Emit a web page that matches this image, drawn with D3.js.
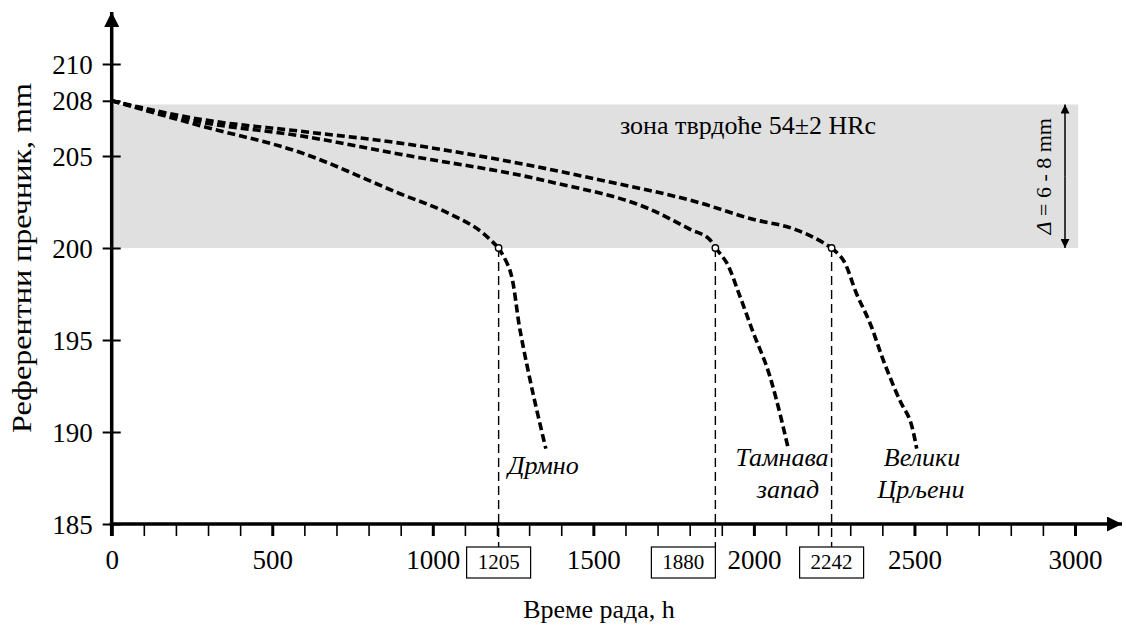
<!DOCTYPE html>
<html>
<head>
<meta charset="utf-8">
<script src="https://cdn.jsdelivr.net/npm/d3@7"></script>
<style>
  body { margin: 0; background: #fff; }
  svg { display: block; font-family: "Liberation Serif", "Times New Roman", serif; }
</style>
</head>
<body>
<svg id="chart" width="1126" height="625"></svg>
<script>
// Axis ticks
const xMajorTicks = [0, 500, 1000, 1500, 2000, 2500, 3000];
const xMinorStep = 100;
const yTicks = [185, 190, 195, 200, 205, 208, 210];

// Mines (curve labels)
const mines = ["Дрмно", "Тамнава запад", "Велики Црљени"];

// Wear curves: operating time (h) vs reference diameter (mm)
const drmnoHours = [0, 275, 586, 898, 1053, 1157, 1205];
const drmnoDiam  = [208, 206.65, 205.2, 202.95, 201.85, 200.8, 200];
const drmnoWearHours = [1205, 1240, 1272, 1312, 1352];
const drmnoWearDiam  = [200, 198.8, 195.5, 192.1, 189.1];

const tamnavaHours = [0, 275, 586, 898, 1365, 1677, 1803, 1863, 1880];
const tamnavaDiam  = [208, 206.85, 206.1, 205.1, 203.6, 202.1, 201.0, 200.45, 200];
const tamnavaWearHours = [1880, 1915, 1957, 1998, 2040, 2071, 2107];
const tamnavaWearDiam  = [200, 199.2, 197.35, 195.4, 193.55, 191.7, 189.1];

const velikiHours = [0, 275, 586, 898, 1209, 1521, 1832, 1988, 2130, 2215, 2242];
const velikiDiam  = [208, 207.0, 206.35, 205.7, 204.8, 203.7, 202.45, 201.6, 201.0, 200.3, 200];
const velikiWearHours = [2242, 2278, 2320, 2362, 2403, 2455, 2486, 2507];
const velikiWearDiam  = [200, 199.35, 197.5, 195.9, 193.9, 191.7, 190.65, 189.1];

// Hours at which each roller leaves the hardened zone
const kneeHours = [1205, 1880, 2242];
const kneeDiam = 200;

// Hardened zone band
const zoneLow = 200;
const zoneHigh = 207.8;
const zoneEndHours = 3010;

const svg = d3.select("#chart");
const x = d3.scaleLinear().domain([0, 3000]).range([111.7, 1075]);
const y = d3.scaleLinear().domain([185, 210]).range([524, 64]);

// hardened zone band
svg.append("rect")
  .attr("x", x(0)).attr("y", y(zoneHigh))
  .attr("width", x(zoneEndHours) - x(0))
  .attr("height", y(zoneLow) - y(zoneHigh))
  .attr("fill", "#e0e0e0");

svg.append("text")
  .attr("x", 620).attr("y", 134)
  .attr("font-size", 26)
  .text("зона тврдоће 54±2 HRc");

// Δ dimension arrow
const defs = svg.append("defs");
defs.append("marker").attr("id", "dimArrowBig")
  .attr("viewBox", "0 0 10 10").attr("refX", 10).attr("refY", 5)
  .attr("markerWidth", 15).attr("markerHeight", 9)
  .attr("markerUnits", "userSpaceOnUse")
  .attr("orient", "auto")
  .append("path").attr("d", "M0,0 L10,5 L0,10 Z").attr("fill", "#000");

const dimX = 1065;
const dimMid = (y(zoneHigh) + y(zoneLow)) / 2;
[y(zoneHigh), y(zoneLow)].forEach(end => {
  svg.append("line")
    .attr("x1", dimX).attr("x2", dimX)
    .attr("y1", dimMid).attr("y2", end)
    .attr("stroke", "#000").attr("stroke-width", 1.5)
    .attr("marker-end", "url(#dimArrowBig)");
});

const dimText = svg.append("text")
  .attr("transform", `translate(1051,${dimMid}) rotate(-90)`)
  .attr("text-anchor", "middle")
  .attr("font-size", 22);
dimText.append("tspan").attr("font-style", "italic").text("Δ");
dimText.append("tspan").text(" = 6 - 8 mm");

// vertical guides at the knee points
const guideBottom = 547;
kneeHours.forEach(h => {
  svg.append("line")
    .attr("x1", x(h)).attr("x2", x(h))
    .attr("y1", y(kneeDiam)).attr("y2", guideBottom)
    .attr("stroke", "#000").attr("stroke-width", 1.4)
    .attr("stroke-dasharray", "9,5");
});

// boxed knee values
const boxW = 64, boxH = 31;
kneeHours.forEach((h, i) => {
  const left = i === 1 ? x(h) - boxW : x(h) - boxW / 2;
  svg.append("rect")
    .attr("x", left).attr("y", guideBottom)
    .attr("width", boxW).attr("height", boxH)
    .attr("fill", "#fff").attr("stroke", "#000").attr("stroke-width", 1.2);
  svg.append("text")
    .attr("x", left + boxW / 2).attr("y", guideBottom + 22)
    .attr("text-anchor", "middle").attr("font-size", 21)
    .text(h);
});

// X axis ticks
const xAxis = d3.axisBottom(x)
  .tickValues(d3.range(0, 3001, xMinorStep))
  .tickSize(12).tickPadding(14)
  .tickFormat(d => xMajorTicks.includes(d) ? d : "");
const gx = svg.append("g").attr("transform", `translate(0,${y(185)})`).call(xAxis)
  .attr("font-family", null).attr("font-size", 27);
gx.select(".domain").remove();
gx.selectAll(".tick line")
  .attr("stroke", "#000")
  .attr("stroke-width", d => xMajorTicks.includes(d) ? 3 : 1.6);
gx.selectAll(".tick text").attr("fill", "#000");

// Y axis ticks (crossing the axis line)
const yAxis = d3.axisLeft(y).tickValues(yTicks).tickSize(9).tickPadding(10).tickFormat(d3.format("d"));
const gy = svg.append("g").attr("transform", `translate(${x(0)},0)`).call(yAxis)
  .attr("font-family", null).attr("font-size", 27);
gy.select(".domain").remove();
gy.selectAll(".tick line").attr("x2", 9).attr("x1", -9).attr("stroke", "#000").attr("stroke-width", 2);
gy.selectAll(".tick text").attr("fill", "#000").attr("dy", "0.34em");

// axis lines with arrow heads
defs.append("marker").attr("id", "axisArrow")
  .attr("viewBox", "0 0 10 10").attr("refX", 10).attr("refY", 5)
  .attr("markerWidth", 22).attr("markerHeight", 15)
  .attr("markerUnits", "userSpaceOnUse")
  .attr("orient", "auto")
  .append("path").attr("d", "M0,0 L10,5 L0,10 Z").attr("fill", "#000");

svg.append("line")
  .attr("x1", x(0)).attr("x2", x(0))
  .attr("y1", 536).attr("y2", 12)
  .attr("stroke", "#000").attr("stroke-width", 3.5)
  .attr("marker-end", "url(#axisArrow)");
svg.append("line")
  .attr("x1", x(0) - 2).attr("x2", 1122)
  .attr("y1", y(185)).attr("y2", y(185))
  .attr("stroke", "#000").attr("stroke-width", 3.5)
  .attr("marker-end", "url(#axisArrow)");

// wear curves
const line = d3.line().x(d => x(d[0])).y(d => y(d[1])).curve(d3.curveMonotoneX);
const lineWear = d3.line().x(d => x(d[0])).y(d => y(d[1])).curve(d3.curveCatmullRom.alpha(0.5));
const series = [
  [drmnoHours, drmnoDiam, drmnoWearHours, drmnoWearDiam],
  [tamnavaHours, tamnavaDiam, tamnavaWearHours, tamnavaWearDiam],
  [velikiHours, velikiDiam, velikiWearHours, velikiWearDiam]
];
series.forEach(([h, d, wh, wd]) => {
  svg.append("path")
    .attr("d", line(h.map((v, i) => [v, d[i]])))
    .attr("fill", "none").attr("stroke", "#000")
    .attr("stroke-width", 3.6).attr("stroke-dasharray", "8,4");
  svg.append("path")
    .attr("d", lineWear(wh.map((v, i) => [v, wd[i]])))
    .attr("fill", "none").attr("stroke", "#000")
    .attr("stroke-width", 3.6).attr("stroke-dasharray", "8,4");
});

// knee markers
svg.selectAll(".knee").data(kneeHours).join("circle")
  .attr("class", "knee")
  .attr("cx", d => x(d)).attr("cy", y(kneeDiam)).attr("r", 3.2)
  .attr("fill", "#fff").attr("stroke", "#000").attr("stroke-width", 1.4);

// mine labels
const labelFont = 26;
svg.append("text").attr("x", 508).attr("y", 474)
  .attr("font-size", labelFont).attr("font-style", "italic").text(mines[0]);
const tam = mines[1].split(" ");
svg.append("text").attr("x", 782).attr("y", 466).attr("text-anchor", "middle")
  .attr("font-size", labelFont).attr("font-style", "italic").text(tam[0]);
svg.append("text").attr("x", 788).attr("y", 498).attr("text-anchor", "middle")
  .attr("font-size", labelFont).attr("font-style", "italic").text(tam[1]);
const vel = mines[2].split(" ");
svg.append("text").attr("x", 922).attr("y", 466).attr("text-anchor", "middle")
  .attr("font-size", labelFont).attr("font-style", "italic").text(vel[0]);
svg.append("text").attr("x", 921).attr("y", 498).attr("text-anchor", "middle")
  .attr("font-size", labelFont).attr("font-style", "italic").text(vel[1]);

// axis titles
svg.append("text").attr("x", 599).attr("y", 618).attr("text-anchor", "middle")
  .attr("font-size", 26).text("Време рада, h");
svg.append("text")
  .attr("transform", `translate(31,258) rotate(-90)`)
  .attr("text-anchor", "middle").attr("font-size", 27)
  .attr("textLength", 350).attr("lengthAdjust", "spacingAndGlyphs")
  .text("Референтни пречник, mm");
</script>
</body>
</html>
